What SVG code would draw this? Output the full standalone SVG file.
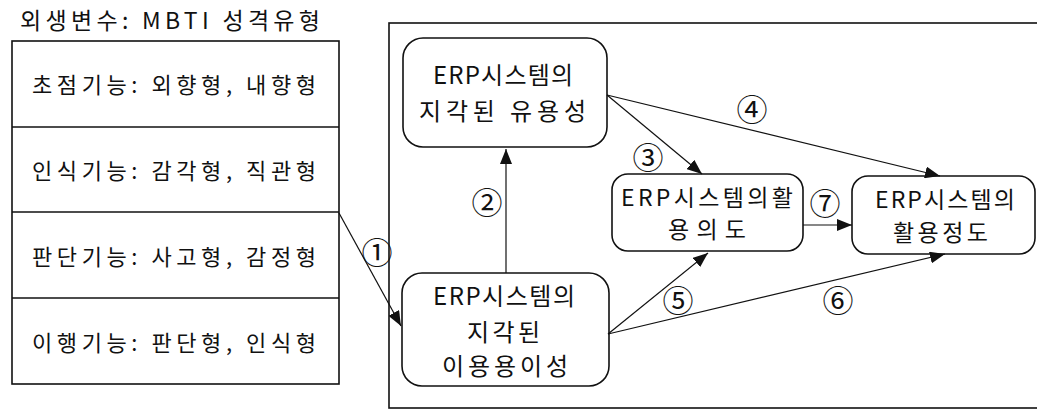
<svg xmlns="http://www.w3.org/2000/svg" width="1037" height="409" viewBox="0 0 1037 409">
<style>
  .t { font-family: "Noto Sans CJK KR", "Noto Sans", sans-serif; fill: #111; font-weight: 400; }
  .box { fill: #fff; stroke: #111; stroke-width: 1.6; }
  .node { fill: #fff; stroke: #111; stroke-width: 1.6; }
  .edge { stroke: #111; stroke-width: 1.2; fill: none; marker-end: url(#arr); }
  .lbl { font-family: "Noto Sans CJK KR", "DejaVu Sans", sans-serif; font-size: 31px; fill: #111; text-anchor: middle; }
</style>
<defs>
  <marker id="arr" markerUnits="userSpaceOnUse" markerWidth="16" markerHeight="12" refX="15" refY="6" orient="auto">
    <path d="M0,0 L15,6 L0,12 z" fill="#111"/>
  </marker>
</defs>
<rect width="1037" height="409" fill="#fff"/>

<g id="title">
  <text class="t" x="20" y="29" font-size="23" textLength="300" lengthAdjust="spacing">외생변수: MBTI 성격유형</text>
</g>

<g id="mbti">
  <rect class="box" x="12" y="41" width="327" height="343"/>
  <line x1="12" y1="127" x2="339" y2="127" stroke="#111" stroke-width="1.6"/>
  <line x1="12" y1="212" x2="339" y2="212" stroke="#111" stroke-width="1.6"/>
  <line x1="12" y1="298" x2="339" y2="298" stroke="#111" stroke-width="1.6"/>
  <text class="t" x="32" y="93" font-size="22" textLength="284" lengthAdjust="spacing">초점기능: 외향형, 내향형</text>
  <text class="t" x="32" y="179" font-size="22" textLength="284" lengthAdjust="spacing">인식기능: 감각형, 직관형</text>
  <text class="t" x="32" y="265" font-size="22" textLength="284" lengthAdjust="spacing">판단기능: 사고형, 감정형</text>
  <text class="t" x="32" y="351" font-size="22" textLength="284" lengthAdjust="spacing">이행기능: 판단형, 인식형</text>
</g>

<g id="frame">
  <rect x="389" y="23" width="670" height="385" fill="none" stroke="#111" stroke-width="1.6"/>
</g>

<g id="node-usefulness">
  <rect class="node" x="403" y="38" width="204" height="109" rx="20"/>
  <text class="t" x="433" y="84" font-size="24" textLength="140" lengthAdjust="spacing">ERP시스템의</text>
  <text class="t" x="419" y="120" font-size="24" textLength="167" lengthAdjust="spacing">지각된 유용성</text>
</g>

<g id="node-ease">
  <rect class="node" x="402" y="273" width="207" height="113" rx="20"/>
  <text class="t" x="433" y="305" font-size="24" textLength="142" lengthAdjust="spacing">ERP시스템의</text>
  <text class="t" x="467" y="341" font-size="24" textLength="73" lengthAdjust="spacing">지각된</text>
  <text class="t" x="442" y="375" font-size="24" textLength="126" lengthAdjust="spacing">이용용이성</text>
</g>

<g id="node-intention">
  <rect class="node" x="612" y="174" width="191" height="77" rx="16"/>
  <text class="t" x="621" y="206" font-size="23" textLength="172" lengthAdjust="spacing">ERP시스템의활</text>
  <text class="t" x="668" y="238" font-size="23" textLength="78" lengthAdjust="spacing">용의도</text>
</g>

<g id="node-usage">
  <rect class="node" x="852" y="176" width="183" height="78" rx="16"/>
  <text class="t" x="875" y="208" font-size="23" textLength="140" lengthAdjust="spacing">ERP시스템의</text>
  <text class="t" x="893" y="241" font-size="23" textLength="95" lengthAdjust="spacing">활용정도</text>
</g>

<g id="connectors">
  <line class="edge" x1="339" y1="213" x2="401" y2="326"/>
  <line class="edge" x1="506" y1="273" x2="506" y2="149"/>
  <line class="edge" x1="607" y1="95" x2="702" y2="174"/>
  <line class="edge" x1="607" y1="95" x2="940" y2="176"/>
  <line class="edge" x1="608" y1="334" x2="708" y2="253"/>
  <line class="edge" x1="608" y1="334" x2="945" y2="254"/>
  <line class="edge" x1="803" y1="225" x2="852" y2="225"/>
  <text class="lbl" x="377" y="264">①</text>
  <text class="lbl" x="487" y="214">②</text>
  <text class="lbl" x="648" y="169">③</text>
  <text class="lbl" x="752" y="121">④</text>
  <text class="lbl" x="678" y="312">⑤</text>
  <text class="lbl" x="838" y="312">⑥</text>
  <text class="lbl" x="825" y="215">⑦</text>
</g>
</svg>
